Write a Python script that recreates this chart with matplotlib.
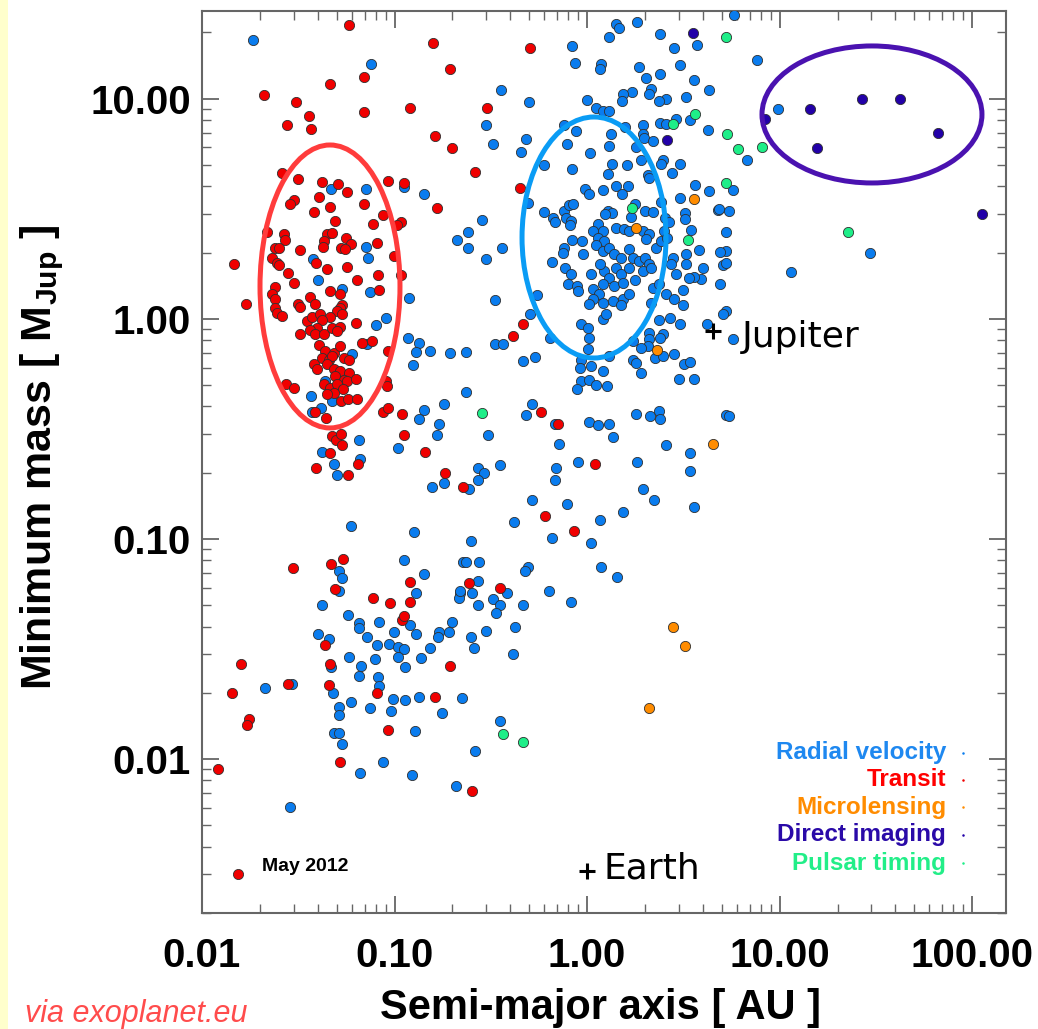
import matplotlib.pyplot as plt
from matplotlib.patches import Ellipse, Rectangle
from matplotlib.ticker import LogLocator, NullFormatter

plt.rcParams['font.family'] = ['Liberation Sans', 'DejaVu Sans']
plt.rcParams['mathtext.fontset'] = 'custom'
plt.rcParams['mathtext.rm'] = 'Liberation Sans'
plt.rcParams['mathtext.bf'] = 'Liberation Sans:bold'

# (semi-major axis [AU], minimum mass [M_Jup])
transit = [
    (0.0580, 21.5), (0.158, 17.8), (0.193, 13.7), (0.0463, 11.7), (0.0694, 12.6),
    (0.0211, 10.4), (0.0308, 9.62), (0.0694, 8.67), (0.120, 9.04), (0.0360, 8.31),
    (0.0277, 7.57), (0.0369, 7.26), (0.162, 6.75), (0.200, 5.96), (0.0261, 4.59),
    (0.0316, 4.31), (0.0421, 4.18), (0.0509, 4.09), (0.0566, 3.76), (0.0923, 4.22),
    (0.112, 4.13), (0.166, 3.18), (0.0301, 3.46), (0.0287, 3.32), (0.0406, 3.57),
    (0.0463, 3.22), (0.0694, 3.32), (0.0382, 3.05), (0.0869, 2.96), (0.0491, 2.78),
    (0.0772, 2.69), (0.108, 2.75), (0.103, 2.67), (0.0218, 2.48), (0.0267, 2.43),
    (0.0271, 2.28), (0.0447, 2.43), (0.0474, 2.45), (0.0431, 2.26), (0.0426, 2.12),
    (0.0560, 2.33), (0.0594, 2.19), (0.0527, 2.10), (0.0553, 2.08), (0.0810, 2.21),
    (0.0240, 2.10), (0.0252, 2.10), (0.0324, 2.05), (0.0991, 1.93), (0.0147, 1.78),
    (0.0232, 1.89), (0.0246, 1.79), (0.0252, 1.76), (0.0392, 1.79), (0.0447, 1.69),
    (0.0566, 1.72), (0.0281, 1.62), (0.0301, 1.46), (0.0638, 1.50), (0.0820, 1.58),
    (0.108, 1.58), (0.0238, 1.40), (0.0232, 1.30), (0.0238, 1.23), (0.0463, 1.34),
    (0.0521, 1.30), (0.0829, 1.35), (0.0170, 1.17), (0.0365, 1.26), (0.0387, 1.17),
    (0.0316, 1.17), (0.0324, 1.13), (0.0534, 1.15), (0.507, 16.9), (0.304, 9.04),
    (0.263, 4.63), (0.450, 3.92), (0.0238, 1.12), (0.0246, 1.06), (0.0261, 1.03),
    (0.0521, 1.12), (0.0503, 1.09), (0.0534, 1.05), (0.0463, 1.02), (0.0352, 0.979),
    (0.0373, 1.02), (0.0411, 1.05), (0.0421, 0.990), (0.0396, 0.910), (0.0365, 0.892),
    (0.0324, 0.855), (0.0387, 0.855), (0.0431, 0.855), (0.0474, 0.910), (0.0521, 0.920),
    (0.0503, 0.883), (0.0631, 0.959), (0.0678, 0.778), (0.0763, 0.795), (0.0923, 0.716),
    (0.0406, 0.762), (0.0436, 0.716), (0.0485, 0.701), (0.0521, 0.755), (0.0421, 0.665),
    (0.0457, 0.652), (0.0474, 0.680), (0.0547, 0.665), (0.0580, 0.652), (0.0382, 0.625),
    (0.0396, 0.594), (0.0447, 0.625), (0.0485, 0.594), (0.0521, 0.581), (0.0580, 0.569),
    (0.0491, 0.552), (0.0547, 0.529), (0.0566, 0.524), (0.0631, 0.535), (0.0431, 0.508),
    (0.0463, 0.486), (0.0503, 0.508), (0.0540, 0.482), (0.0485, 0.462), (0.0447, 0.457),
    (0.0274, 0.508), (0.0301, 0.486), (0.0901, 0.524), (0.0912, 0.497), (0.0527, 0.425),
    (0.0573, 0.434), (0.0638, 0.434), (0.0387, 0.379), (0.0441, 0.356), (0.0869, 0.379),
    (0.0923, 0.395), (0.109, 0.371), (0.112, 0.298), (0.144, 0.249), (0.0474, 0.295),
    (0.0497, 0.280), (0.0534, 0.266), (0.0527, 0.301), (0.0463, 0.245), (0.0646, 0.220),
    (0.0392, 0.211), (0.0573, 0.196), (0.182, 0.199), (0.228, 0.172), (0.0298, 0.0737),
    (0.0468, 0.0768), (0.0540, 0.0810), (0.0491, 0.0592), (0.120, 0.0636), (0.0772, 0.0539),
    (0.0946, 0.0511), (0.120, 0.0516), (0.109, 0.0428), (0.112, 0.0447), (0.0436, 0.0330),
    (0.0160, 0.0271), (0.0463, 0.0271), (0.195, 0.0265), (0.0281, 0.0220), (0.0144, 0.0200),
    (0.0457, 0.0217), (0.0810, 0.0200), (0.162, 0.0192), (0.0176, 0.0152), (0.0172, 0.0143),
    (0.0923, 0.0136), (0.0521, 0.00973), (0.0121, 0.00904), (0.467, 0.949), (0.414, 0.838),
    (0.578, 0.379), (0.708, 0.331), (1.10, 0.220), (0.606, 0.127), (0.857, 0.109),
    (0.245, 0.0630), (0.351, 0.0598), (0.254, 0.00719),
]

radial_velocity = [
    (0.0183, 18.4), (0.0754, 14.3), (0.0468, 3.88), (0.0711, 3.88), (0.112, 3.96),
    (0.142, 3.68), (0.0711, 2.12), (0.0728, 1.89), (0.0378, 1.87), (0.0401, 1.50),
    (0.0534, 1.37), (0.0745, 1.33), (0.119, 1.24), (0.0800, 0.939), (0.0901, 1.01),
    (0.0719, 0.770), (0.0601, 0.694), (0.0436, 0.524), (0.0369, 0.448), (0.0474, 0.425),
    (0.0416, 0.395), (0.0373, 0.379), (0.117, 0.820), (0.134, 0.778), (0.130, 0.709),
    (0.152, 0.716), (0.193, 0.701), (0.234, 0.709), (0.124, 0.619), (0.234, 0.467),
    (0.142, 0.387), (0.180, 0.408), (0.134, 0.349), (0.171, 0.331), (0.166, 0.298),
    (0.104, 0.260), (0.0654, 0.280), (0.0421, 0.247), (0.0485, 0.220), (0.0503, 0.196),
    (0.0661, 0.230), (0.156, 0.172), (0.180, 0.179), (0.0594, 0.114), (0.126, 0.108),
    (0.0515, 0.0714), (0.0534, 0.0664), (0.0515, 0.0579), (0.112, 0.0800), (0.142, 0.0692),
    (0.130, 0.0567), (0.228, 0.0784), (0.218, 0.0567), (0.215, 0.0539), (0.0421, 0.0501),
    (0.0573, 0.0451), (0.0654, 0.0415), (0.0654, 0.0394), (0.0829, 0.0420), (0.120, 0.0407),
    (0.0401, 0.0370), (0.0457, 0.0351), (0.0719, 0.0359), (0.0991, 0.0378), (0.129, 0.0370),
    (0.171, 0.0378), (0.169, 0.0359), (0.191, 0.0378), (0.200, 0.0420), (0.0810, 0.0330),
    (0.0935, 0.0333), (0.104, 0.0323), (0.112, 0.0316), (0.152, 0.0320), (0.0580, 0.0291),
    (0.0670, 0.0265), (0.0791, 0.0285), (0.104, 0.0291), (0.114, 0.0262), (0.137, 0.0288),
    (0.0468, 0.0262), (0.0654, 0.0239), (0.0820, 0.0236), (0.0829, 0.0215), (0.0294, 0.0220),
    (0.0213, 0.0211), (0.0480, 0.0200), (0.0594, 0.0182), (0.0515, 0.0173), (0.0515, 0.0159),
    (0.0745, 0.0171), (0.0957, 0.0166), (0.0980, 0.0188), (0.114, 0.0186), (0.134, 0.0192),
    (0.176, 0.0162), (0.223, 0.0190), (0.0485, 0.0132), (0.0515, 0.0132), (0.0534, 0.0117),
    (0.127, 0.0134), (0.0661, 0.00867), (0.0869, 0.00973), (0.123, 0.00849), (0.208, 0.00757),
    (0.0287, 0.00609),
    (0.359, 10.9), (0.501, 9.62), (0.297, 7.57), (0.326, 6.21), (0.484, 6.54),
    (0.456, 5.71), (0.599, 4.99), (0.788, 6.21), (0.877, 7.11), (0.760, 7.57),
    (0.836, 4.78), (0.836, 17.3), (0.867, 14.5), (1.18, 14.3), (1.17, 13.6),
    (1.41, 21.9), (1.46, 21.0), (1.81, 22.2), (1.30, 19.1), (2.39, 19.6),
    (3.71, 17.6), (2.82, 16.9), (1.86, 13.9), (3.03, 14.2), (2.39, 12.9),
    (2.02, 12.4), (3.58, 12.1), (4.28, 10.9), (2.14, 11.0), (2.09, 10.5),
    (1.71, 10.7), (1.54, 10.5), (1.52, 9.72), (2.56, 10.0), (2.36, 9.72),
    (3.25, 10.2), (1.00, 9.82), (1.11, 9.04), (1.21, 8.76), (1.30, 8.76),
    (2.39, 7.73), (2.56, 7.65), (2.89, 8.06), (3.41, 7.97), (4.23, 7.18),
    (1.57, 7.41), (1.33, 6.89), (1.95, 7.57), (1.95, 6.89), (1.97, 6.61),
    (1.30, 6.08), (1.04, 5.65), (1.79, 6.02), (2.19, 6.41), (1.90, 5.25),
    (2.47, 5.25), (2.41, 5.04), (3.03, 5.04), (1.35, 5.04), (1.61, 4.99),
    (1.28, 4.54), (2.07, 4.49), (2.09, 4.35), (2.75, 4.59), (0.976, 3.88),
    (1.02, 3.68), (1.21, 3.84), (1.41, 4.01), (1.63, 4.01), (1.52, 3.68),
    (2.41, 3.39), (3.03, 3.53), (3.62, 4.05), (4.28, 3.80), (4.76, 3.12),
    (1.77, 3.32), (2.00, 3.09), (2.19, 3.05), (0.495, 3.36), (0.599, 3.05),
    (0.667, 2.87), (0.683, 2.75), (0.760, 3.09), (0.807, 3.29), (0.847, 3.32),
    (0.778, 2.87), (0.827, 2.78), (0.817, 2.67), (1.28, 3.09), (1.35, 3.02),
    (1.24, 2.99), (1.69, 2.90), (2.53, 2.87), (2.66, 2.75), (3.21, 3.02),
    (3.21, 2.84), (0.286, 2.81), (0.242, 2.48), (0.212, 2.28), (0.242, 2.10),
    (0.363, 2.10), (0.297, 1.87), (1.14, 2.69), (1.07, 2.50), (1.21, 2.50),
    (1.14, 2.33), (1.22, 2.26), (1.41, 2.58), (1.55, 2.56), (1.65, 2.50),
    (1.95, 2.50), (2.09, 2.43), (2.02, 2.30), (2.27, 2.10), (2.41, 2.26),
    (2.50, 2.50), (2.59, 2.33), (3.45, 2.53), (3.80, 2.05), (0.836, 2.28),
    (0.942, 2.26), (0.760, 2.10), (0.751, 1.99), (0.953, 1.97), (1.11, 2.16),
    (1.21, 2.03), (1.30, 2.10), (1.38, 1.97), (1.50, 1.89), (1.65, 2.08),
    (1.73, 1.89), (1.86, 1.83), (2.00, 1.89), (2.09, 1.78), (2.79, 1.89),
    (2.72, 1.78), (3.25, 1.97), (3.25, 1.78), (3.98, 1.70), (3.89, 1.52),
    (3.58, 1.55), (3.37, 1.53), (0.659, 1.81), (0.769, 1.70), (0.827, 1.60),
    (0.798, 1.44), (1.05, 1.60), (1.22, 1.65), (1.30, 1.53), (1.17, 1.78),
    (1.41, 1.70), (1.50, 1.60), (1.65, 1.70), (1.21, 1.44), (1.38, 1.41),
    (1.54, 1.46), (1.77, 1.50), (1.95, 1.65), (2.14, 1.70), (2.19, 1.38),
    (2.36, 1.44), (2.56, 1.30), (2.89, 1.60), (3.14, 1.35), (0.888, 1.41),
    (0.899, 1.34), (1.07, 1.37), (1.15, 1.30), (1.07, 1.23), (1.02, 1.17),
    (1.21, 1.18), (1.36, 1.21), (1.54, 1.23), (1.50, 1.15), (1.65, 1.30),
    (2.14, 1.18), (2.82, 1.23), (3.14, 1.16), (0.551, 1.28), (0.334, 1.22),
    (4.93, 1.44), (5.24, 2.03), (5.11, 1.76),
    (5.83, 24.1), (7.67, 14.9), (9.85, 8.95), (6.80, 5.25), (5.76, 3.84),
    (4.82, 3.15), (5.49, 3.09), (5.24, 2.48), (4.93, 2.01), (5.24, 1.79),
    (29.5, 1.99), (11.5, 1.63), (5.24, 1.09),
    (0.507, 1.05), (0.334, 0.770), (0.368, 0.770), (0.467, 0.645), (0.538, 0.672),
    (0.644, 0.820), (0.931, 0.949), (1.01, 0.910), (1.02, 0.820), (1.01, 0.731),
    (1.21, 1.00), (1.25, 1.05), (0.931, 0.652), (0.920, 0.600), (1.05, 0.612),
    (1.21, 0.581), (1.30, 0.680), (0.931, 0.524), (1.02, 0.529), (0.888, 0.482),
    (1.11, 0.502), (1.27, 0.497), (2.36, 0.990), (3.03, 0.949), (2.69, 1.01),
    (2.47, 0.855), (2.39, 0.820), (2.09, 0.865), (2.09, 0.812), (2.07, 0.755),
    (1.90, 0.739), (1.73, 0.795), (2.25, 0.665), (2.47, 0.680), (2.82, 0.694),
    (1.73, 0.652), (1.79, 0.632), (1.90, 0.569), (3.18, 0.625), (3.41, 0.638),
    (2.99, 0.535), (3.58, 0.535), (4.18, 0.949), (5.11, 1.05), (0.307, 0.298),
    (0.519, 0.412), (0.484, 0.367), (0.683, 0.331), (0.716, 0.269), (1.02, 0.338),
    (1.14, 0.328), (1.30, 0.331), (1.36, 0.289), (1.79, 0.371), (2.12, 0.360),
    (2.36, 0.383), (2.39, 0.352), (2.56, 0.266), (3.41, 0.245), (3.41, 0.203),
    (5.24, 0.364), (0.273, 0.211), (0.290, 0.200), (0.270, 0.185), (0.355, 0.216),
    (0.245, 0.168), (0.691, 0.209), (0.683, 0.186), (0.899, 0.223), (1.81, 0.223),
    (1.95, 0.168), (2.22, 0.150), (0.519, 0.150), (0.788, 0.144), (0.419, 0.119),
    (1.54, 0.132), (1.17, 0.122), (3.58, 0.139), (0.251, 0.0977), (0.659, 0.101),
    (1.05, 0.0957), (0.234, 0.0784), (0.276, 0.0784), (0.495, 0.0745), (0.478, 0.0714),
    (1.18, 0.0745), (1.43, 0.0670), (0.270, 0.0643), (0.220, 0.0579), (0.254, 0.0567),
    (0.386, 0.0567), (0.326, 0.0533), (0.351, 0.0501), (0.270, 0.0501), (0.467, 0.0501),
    (0.636, 0.0579), (0.827, 0.0516),
    (0.338, 0.0461), (0.300, 0.0382), (0.251, 0.0359), (0.260, 0.0320), (0.424, 0.0398),
    (0.414, 0.0300), (0.355, 0.0149), (0.263, 0.0109), (5.76, 0.812), (5.43, 0.360),
]

microlensing = [(3.58, 3.50), (1.79, 2.58), (2.30, 0.724), (4.49, 0.271),
                (2.79, 0.0398), (3.21, 0.0327), (2.09, 0.0171)]

direct_imaging = [(3.53, 19.8), (2.59, 6.47), (8.44, 8.06), (14.4, 8.95), (26.8, 9.93),
                  (42.1, 9.93), (66.2, 6.96), (15.7, 5.96), (112, 2.99)]

pulsar_timing = [(5.24, 19.1), (3.62, 8.49), (2.79, 7.65), (5.36, 6.89), (5.24, 4.13),
                 (1.71, 3.18), (3.33, 2.28), (6.11, 5.89), (8.14, 6.02), (22.7, 2.48),
                 (0.283, 0.375), (0.368, 0.0130), (0.467, 0.0120)]

methods = ['Radial velocity', 'Transit', 'Microlensing', 'Direct imaging', 'Pulsar timing']
colors = ['#0A7CEE', '#F00000', '#FF8C00', '#2200A8', '#1EEE88']
label_colors = ['#1E88F0', '#FF0000', '#FF8C00', '#2A0AA8', '#22EE88']
series = [radial_velocity, transit, microlensing, direct_imaging, pulsar_timing]

jupiter = (4.5, 0.88)
earth = (1.0, 0.0031)

W, H = 1038, 1029
fig = plt.figure(figsize=(W / 100, H / 100), dpi=100)
fig.add_artist(Rectangle((0, 0), 8 / W, 1, transform=fig.transFigure,
                         facecolor='#FFFFCC', edgecolor='none', zorder=0))

ax = fig.add_axes([202 / W, 116 / H, 804 / W, 902 / H])
ax.set_xscale('log')
ax.set_yscale('log')
ax.set_xlim(0.01, 150)
ax.set_ylim(0.002, 25)

for pts, col in zip(series, colors):
    a, m = zip(*pts)
    ax.scatter(a, m, s=54, c=col, edgecolors='#303030', linewidths=0.6, zorder=3)

# ellipses drawn in axes fraction so they stay round on log axes
ax.add_patch(Ellipse((0.1592, 0.6946), 0.1741, 0.3137, transform=ax.transAxes,
                     fill=False, edgecolor='#FF3C3C', lw=3.6, zorder=4))
ax.add_patch(Ellipse((0.4876, 0.7489), 0.1791, 0.2672, transform=ax.transAxes,
                     fill=False, edgecolor='#0A9CF5', lw=3.6, zorder=4))
ax.add_patch(Ellipse((0.8333, 0.8853), 0.2736, 0.1519, transform=ax.transAxes,
                     fill=False, edgecolor='#4A12B0', lw=3.6, zorder=4))

# ticks
ax.set_xticks([0.01, 0.1, 1, 10, 100])
ax.set_xticklabels(['0.01', '0.10', '1.00', '10.00', '100.00'])
ax.set_yticks([0.01, 0.1, 1, 10])
ax.set_yticklabels(['0.01', '0.10', '1.00', '10.00'])
for axis in (ax.xaxis, ax.yaxis):
    axis.set_minor_locator(LogLocator(base=10, subs=range(2, 10)))
    axis.set_minor_formatter(NullFormatter())
ax.tick_params(which='both', direction='in', top=True, right=True, colors='#666666')
ax.tick_params(which='major', length=12, width=1.3, labelsize=29, labelcolor='black')
ax.tick_params(which='minor', length=6.5, width=1.0)
ax.tick_params(axis='x', which='major', pad=17)
ax.tick_params(axis='y', which='major', pad=8)
for lab in ax.get_xticklabels() + ax.get_yticklabels():
    lab.set_fontweight('bold')
for sp in ax.spines.values():
    sp.set_color('#666666')
    sp.set_linewidth(1.5)

fig.text(601 / W, 1 - 1008 / H, 'Semi-major axis [ AU ]', ha='center', va='center',
         fontsize=30, fontweight='bold')
fig.text(42 / W, 1 - 457 / H, r'Minimum mass [ M$_{\mathbf{Jup}}$ ]', rotation=90,
         ha='center', va='center', fontsize=31, fontweight='bold')

# method legend (coloured text)
legend_y = [0.1774, 0.1475, 0.1175, 0.0865, 0.0554]
for name, col, lc, yy in zip(methods, colors, label_colors, legend_y):
    ax.text(0.9254, yy, name, transform=ax.transAxes, ha='right', va='center',
            fontsize=17.5, fontweight='bold', color=lc, zorder=5)
    ax.plot([0.9465], [yy], 'o', ms=1.8, color=col, mec='none',
            transform=ax.transAxes, zorder=5)

ax.plot([0.0448], [0.0432], 'o', ms=7.3, color='#F00000', mec='#303030', mew=0.6,
        transform=ax.transAxes, zorder=5)
ax.text(0.0746, 0.051, 'May 2012', transform=ax.transAxes, ha='left', va='center',
        fontsize=14, fontweight='bold')

# Solar System reference points
for pos, name, off in [(jupiter, 'Jupiter', (21, -11.5)), (earth, 'Earth', (12, -5))]:
    ax.plot([pos[0]], [pos[1]], '+', color='black', ms=11.5, mew=2.2, zorder=5)
    ax.annotate(name, xy=pos, xytext=off, textcoords='offset points',
                ha='left', va='baseline', fontsize=26, family='DejaVu Sans', zorder=5)

fig.text(25 / W, 7 / H, 'via exoplanet.eu', ha='left', va='baseline', fontsize=22,
         style='italic', color='#FF4C4C')

fig.savefig('out.png', dpi=100)
